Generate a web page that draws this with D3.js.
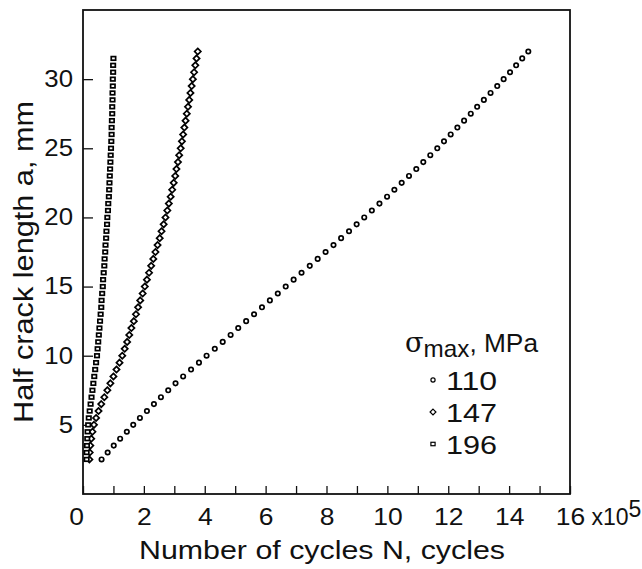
<!DOCTYPE html>
<html>
<head>
<meta charset="utf-8">
<script src="https://cdn.jsdelivr.net/npm/d3@7"></script>
<style>
  html, body { margin: 0; padding: 0; background: #fff; }
  svg { display: block; font-family: "Liberation Sans", Arial, Helvetica, sans-serif; }
  .tick text { font-size: 23px; fill: #111; }
  .axis-title { font-size: 26px; fill: #111; }
  .legend text { font-size: 26px; fill: #111; }
</style>
</head>
<body>
<div id="chart"></div>
<script>
// half crack length a (mm), read at 0.5 mm steps
const crackLength = [
  2.5, 3, 3.5, 4, 4.5, 5, 5.5, 6, 6.5, 7, 7.5, 8, 8.5, 9, 9.5, 10,
  10.5, 11, 11.5, 12, 12.5, 13, 13.5, 14, 14.5, 15, 15.5, 16, 16.5, 17,
  17.5, 18, 18.5, 19, 19.5, 20, 20.5, 21, 21.5, 22, 22.5, 23, 23.5, 24,
  24.5, 25, 25.5, 26, 26.5, 27, 27.5, 28, 28.5, 29, 29.5, 30, 30.5, 31,
  31.5, 32
];

// cycles N (x10^5) for each sigma_max
const cycles110 = [
  0.61, 0.81, 1.01, 1.22, 1.44, 1.65, 1.87, 2.10, 2.33, 2.56, 2.80, 3.04,
  3.29, 3.55, 3.81, 4.06, 4.33, 4.59, 4.85, 5.10, 5.36, 5.62, 5.88, 6.14,
  6.40, 6.66, 6.92, 7.18, 7.45, 7.71, 7.97, 8.23, 8.48, 8.74, 8.99, 9.24,
  9.49, 9.74, 9.99, 10.23, 10.47, 10.71, 10.95, 11.18, 11.41, 11.64, 11.86,
  12.08, 12.30, 12.52, 12.74, 12.95, 13.17, 13.39, 13.61, 13.82, 14.03,
  14.23, 14.43, 14.63
];
const cycles147 = [
  0.21, 0.22, 0.24, 0.27, 0.31, 0.36, 0.43, 0.51, 0.60, 0.70, 0.80, 0.90,
  1.00, 1.10, 1.20, 1.29, 1.37, 1.45, 1.52, 1.59, 1.67, 1.74, 1.81, 1.88,
  1.96, 2.03, 2.10, 2.17, 2.24, 2.31, 2.38, 2.45, 2.52, 2.58, 2.65, 2.71,
  2.77, 2.82, 2.88, 2.93, 2.98, 3.03, 3.07, 3.12, 3.16, 3.21, 3.25, 3.29,
  3.33, 3.37, 3.41, 3.45, 3.49, 3.53, 3.57, 3.61, 3.65, 3.69, 3.73, 3.77
];
const cycles196 = [
  0.12, 0.12, 0.13, 0.14, 0.15, 0.17, 0.19, 0.22, 0.25, 0.28, 0.31, 0.34,
  0.37, 0.40, 0.43, 0.46, 0.48, 0.50, 0.52, 0.54, 0.56, 0.58, 0.60, 0.61,
  0.63, 0.65, 0.66, 0.68, 0.70, 0.71, 0.73, 0.74, 0.76, 0.77, 0.79, 0.80,
  0.82, 0.83, 0.85, 0.86, 0.87, 0.88, 0.89, 0.90, 0.91, 0.92, 0.93, 0.94,
  0.94, 0.95, 0.96, 0.96, 0.97, 0.97, 0.98, 0.98, 0.99, 0.99, 1.00
];

const stressLabels = ['110', '147', '196'];
const markerShapes = ['circle', 'diamond', 'square'];

const xTicks = d3.range(0, 17);
const xTickLabels = ['0', '', '2', '', '4', '', '6', '', '8', '', '10', '', '12', '', '14', '', '16'];
const yTicks = [5, 10, 15, 20, 25, 30];

const width = 642, height = 569;
const plot = { left: 83, right: 570, top: 10, bottom: 494 };

// the scanned lettering is a little wider than Liberation Sans
function widen(selection, factor) {
  selection.each(function () {
    const len = this.getComputedTextLength();
    if (len > 0) {
      d3.select(this)
        .attr('textLength', len * factor)
        .attr('lengthAdjust', 'spacingAndGlyphs');
    }
  });
}

const svg = d3.select('#chart')
  .append('svg')
  .attr('width', width)
  .attr('height', height);

const xScale = d3.scaleLinear().domain([0, 16]).range([plot.left, plot.right]);
const yScale = d3.scaleLinear().domain([0, 35]).range([plot.bottom, plot.top]);

// frame
svg.append('rect')
  .attr('x', plot.left)
  .attr('y', plot.top)
  .attr('width', plot.right - plot.left)
  .attr('height', plot.bottom - plot.top)
  .attr('fill', 'none')
  .attr('stroke', '#111')
  .attr('stroke-width', 1.8);

// x axis, ticks pointing inward
const xAxis = svg.append('g')
  .attr('transform', `translate(0,${plot.bottom})`)
  .call(d3.axisBottom(xScale)
    .tickValues(xTicks)
    .tickSize(-8)
    .tickPadding(15)
    .tickFormat((d, i) => xTickLabels[i]));
xAxis.select('.domain').remove();
xAxis.selectAll('.tick line').attr('stroke', '#111').attr('stroke-width', 1.3);
xAxis.selectAll('.tick').filter(d => d === 0).select('text').attr('x', -7);
widen(xAxis.selectAll('.tick text'), 1.15);

// "x10^5" after the last tick label
const lastTick = xAxis.selectAll('.tick').filter(d => d === 16);
const mult = lastTick.append('text')
  .attr('x', 21)
  .attr('y', 31)
  .attr('text-anchor', 'start')
  .attr('fill', '#111')
  .style('font-size', '23px')
  .text('x10');
mult.append('tspan')
  .attr('dy', -8)
  .text('5');

// y axis
const yAxis = svg.append('g')
  .attr('transform', `translate(${plot.left},0)`)
  .call(d3.axisLeft(yScale)
    .tickValues(yTicks)
    .tickSize(-10)
    .tickPadding(10)
    .tickFormat(d3.format('d')));
yAxis.select('.domain').remove();
yAxis.selectAll('.tick line').attr('stroke', '#111').attr('stroke-width', 1.3);
widen(yAxis.selectAll('.tick text'), 1.12);

// axis titles
svg.append('text')
  .attr('class', 'axis-title')
  .attr('x', 322)
  .attr('y', 559)
  .attr('text-anchor', 'middle')
  .attr('textLength', 366)
  .attr('lengthAdjust', 'spacingAndGlyphs')
  .text('Number of cycles N, cycles');

svg.append('text')
  .attr('class', 'axis-title')
  .attr('transform', 'translate(33,262) rotate(-90)')
  .attr('text-anchor', 'middle')
  .attr('textLength', 322)
  .attr('lengthAdjust', 'spacingAndGlyphs')
  .style('font-size', '27px')
  .text('Half crack length a, mm');

// marker drawing
function drawMarker(g, shape, x, y, s) {
  if (shape === 'circle') {
    g.append('circle')
      .attr('cx', x).attr('cy', y).attr('r', 2.2 * s);
  } else if (shape === 'diamond') {
    const h = 3.1 * s;
    g.append('path')
      .attr('d', `M${x},${y - h}L${x + h},${y}L${x},${y + h}L${x - h},${y}Z`);
  } else {
    g.append('rect')
      .attr('x', x - 2.2 * s).attr('y', y - 1.8 * s)
      .attr('width', 4.4 * s).attr('height', 3.6 * s);
  }
}

const seriesCycles = [cycles110, cycles147, cycles196];

seriesCycles.forEach((cycles, k) => {
  const g = svg.append('g')
    .attr('fill', '#fff')
    .attr('stroke', '#000')
    .attr('stroke-width', 1.7);
  cycles.forEach((n, i) => {
    drawMarker(g, markerShapes[k], xScale(n), yScale(crackLength[i]), 1);
  });
});

// legend
const legend = svg.append('g').attr('class', 'legend');
const header = legend.append('text')
  .attr('x', 405)
  .attr('y', 352);
header.append('tspan').text('σ').style('font-family', '"DejaVu Serif", serif').style('font-size', '27px');
header.append('tspan').text('max').attr('dy', 5).style('font-size', '24px');
header.append('tspan').text(', MPa').attr('dy', -5);
header.attr('textLength', 133).attr('lengthAdjust', 'spacingAndGlyphs');

stressLabels.forEach((label, k) => {
  const cy = 380 + k * 32;
  const mg = legend.append('g')
    .attr('fill', '#fff')
    .attr('stroke', '#000')
    .attr('stroke-width', 1.2);
  drawMarker(mg, markerShapes[k], 433, cy, 0.95);
  legend.append('text')
    .attr('x', 446)
    .attr('y', cy + 10)
    .attr('textLength', 51)
    .attr('lengthAdjust', 'spacingAndGlyphs')
    .text(label);
});
</script>
</body>
</html>
